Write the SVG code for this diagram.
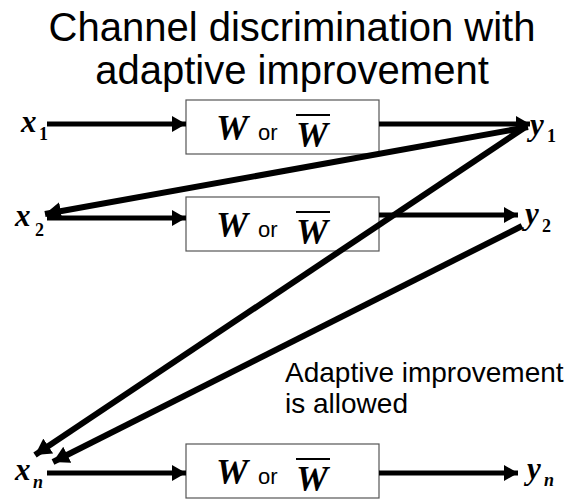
<svg xmlns="http://www.w3.org/2000/svg" width="584" height="504" viewBox="0 0 584 504">
<defs>
<marker id="ah" markerWidth="14" markerHeight="16" refX="14" refY="8" orient="auto" markerUnits="userSpaceOnUse">
<path d="M0,0 L14,8 L0,16 Z" fill="#000"/>
</marker>
<marker id="ah2" markerWidth="16" markerHeight="18" refX="16" refY="9" orient="auto" markerUnits="userSpaceOnUse">
<path d="M0,0 L16,9 L0,18 Z" fill="#000"/>
</marker>
</defs>
<style>
.box{fill:#fff;stroke:#555;stroke-width:1.2}
.w{font-family:"Liberation Serif",serif;font-style:italic;font-weight:bold;font-size:36px}
.or{font-family:"Liberation Sans",sans-serif;font-size:22px}
.lab{font-family:"Liberation Serif",serif;font-style:italic;font-weight:bold;font-size:31px}
.sub{font-family:"Liberation Serif",serif;font-weight:bold;font-size:18px}
.subi{font-family:"Liberation Serif",serif;font-style:italic;font-weight:bold;font-size:18px}
.title{font-family:"Liberation Sans",sans-serif;font-size:40px}
.note{font-family:"Liberation Sans",sans-serif;font-size:28px}
.c{stroke:#000;stroke-width:5;fill:none}
.d{stroke:#000;stroke-width:6;fill:none}
</style>
<text class="title" x="292" y="41" text-anchor="middle">Channel discrimination with</text>
<text class="title" x="292" y="84" text-anchor="middle">adaptive improvement</text>
<g id="box1">
<rect class="box" x="186" y="100" width="193" height="54"/>
<text class="w" x="216" y="140">W</text>
<text class="or" x="258" y="140">or</text>
<text class="w" x="296" y="147">W</text>
<line x1="296" y1="115" x2="330" y2="115" stroke="#000" stroke-width="2"/>
</g>
<g id="box2">
<rect class="box" x="186" y="197" width="193" height="54"/>
<text class="w" x="216" y="237">W</text>
<text class="or" x="258" y="237">or</text>
<text class="w" x="296" y="244">W</text>
<line x1="296" y1="212" x2="330" y2="212" stroke="#000" stroke-width="2"/>
</g>
<g id="boxn">
<rect class="box" x="186" y="444" width="193" height="54"/>
<text class="w" x="216" y="484">W</text>
<text class="or" x="258" y="484">or</text>
<text class="w" x="296" y="491">W</text>
<line x1="296" y1="459" x2="330" y2="459" stroke="#000" stroke-width="2"/>
</g>
<g id="x1"><text class="lab" x="21" y="132">x</text><text class="sub" x="39" y="140">1</text></g>
<g id="x2"><text class="lab" x="15" y="226">x</text><text class="sub" x="35" y="236">2</text></g>
<g id="xn"><text class="lab" x="15" y="480">x</text><text class="subi" x="33" y="488">n</text></g>
<g id="y1"><text class="lab" x="530" y="135">y</text><text class="sub" x="547" y="142">1</text></g>
<g id="y2"><text class="lab" x="525" y="224">y</text><text class="sub" x="542" y="232">2</text></g>
<g id="yn"><text class="lab" x="527" y="479">y</text><text class="subi" x="544" y="486">n</text></g>
<g id="note">
<text class="note" x="285" y="382">Adaptive improvement</text>
<text class="note" x="285" y="413">is allowed</text>
</g>
<g id="connectors">
<line class="c" x1="47" y1="124" x2="186" y2="124" marker-end="url(#ah)"/>
<line class="c" x1="379" y1="124" x2="530" y2="124" marker-end="url(#ah)"/>
<line class="c" x1="47" y1="218" x2="186" y2="218" marker-end="url(#ah)"/>
<line class="c" x1="379" y1="215" x2="518" y2="215" marker-end="url(#ah)"/>
<line class="c" x1="47" y1="473" x2="186" y2="473" marker-end="url(#ah)"/>
<line class="c" x1="379" y1="473" x2="518" y2="473" marker-end="url(#ah)"/>
<line class="d" x1="528" y1="127" x2="45" y2="214" marker-end="url(#ah2)"/>
<line class="d" x1="524" y1="128" x2="35" y2="455" marker-end="url(#ah2)"/>
<line class="d" x1="522" y1="226" x2="53" y2="462" marker-end="url(#ah2)"/>
</g>
</svg>
